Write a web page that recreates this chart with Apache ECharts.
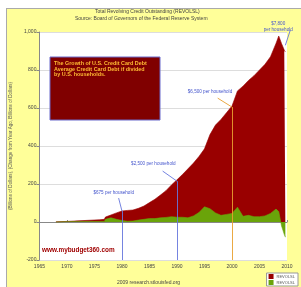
<!DOCTYPE html>
<html>
<head>
<meta charset="utf-8">
<script src="https://cdn.jsdelivr.net/npm/echarts@6/dist/echarts.min.js"></script>
<style>
  html, body { margin: 0; padding: 0; background: #fff; }
  #wrap { position: relative; width: 301px; height: 287px; background: #fff; overflow: hidden; }
  #panel { position: absolute; left: 6px; top: 8px; right: 0; bottom: 0; background: #ffff99; border-left: 1px solid #aaa; border-top: 1px solid #aaa; }
  #main { position: absolute; left: 0; top: 0; width: 301px; height: 287px; }
</style>
</head>
<body>
<div id="wrap">
  <div id="panel"></div>
  <div id="main"></div>
</div>
<script type="text/javascript">

	// dates (decimal years) shared by both series
	var years = [1968, 1970, 1972, 1974, 1976, 1976.8, 1977, 1978, 1979, 1980, 1981, 1982, 1983, 1984,
		1985, 1986, 1987, 1988, 1989, 1990, 1991, 1992, 1993, 1994, 1995, 1996, 1997, 1998, 1999,
		2000, 2001, 2002, 2003, 2004, 2005, 2006, 2007, 2008, 2008.5, 2009, 2009.5, 2009.7];
	// REVOLSL, billions of dollars
	var revolsl = [1, 3, 6, 9, 12, 14, 26, 37, 48, 58, 61, 63, 72, 84,
		102, 120, 142, 165, 195, 222, 250, 280, 310, 345, 385, 460, 510, 540, 575,
		610, 690, 715, 745, 770, 800, 830, 870, 940, 979, 940, 905, 895];
	// change from year ago, billions of dollars
	var changeYoY = [0, 2, 3, 3, 3, 3, 14, 22, 14, 8, 4, 5, 10, 14,
		18, 18, 22, 24, 28, 25, 25, 22, 32, 50, 80, 70, 48, 35, 40,
		45, 78, 30, 35, 28, 28, 32, 45, 68, 55, -20, -65, -80];

	// household annotations
	var noteText = ['$675 per household', '$2,500 per household', '$6,500 per household', '$7,800\nper household'];
	var notePos = [[1978.5, 153], [1985.7, 305], [1996, 684], [2008.4, 1029]];
	var pointerFrom = [[1979.4, 126], [1987.4, 268], [1997.4, 652], [2010.6, 1010]];
	var pointerTo = [[1980, 58], [1990, 215], [2000, 605], [2009.7, 930]];
	var pointerColors = ['#6677dd', '#6677dd', '#e8a030', '#6677dd'];
	var dropYears = [1980, 1990, 2000];
	var dropValues = [58, 215, 605];

	function pairs(xs, ys) {
		var out = [];
		for (var i = 0; i < xs.length; i++) out.push([xs[i], ys[i]]);
		return out;
	}

	var dropLines = [];
	for (var j = 0; j < dropYears.length; j++) {
		dropLines.push([{coord: [dropYears[j], dropValues[j]], lineStyle: {color: pointerColors[j]}}, {coord: [dropYears[j], -200]}]);
	}

	var font = '"Liberation Sans", Arial, sans-serif';
	var baseGraphic = [
		{type: 'text', left: 95, top: 9, style: {text: 'Total Revolving Credit Outstanding (REVOLSL)', font: '5px ' + font, fill: '#444'}},
		{type: 'text', left: 75, top: 16, style: {text: 'Source: Board of Governors of the Federal Reserve System', font: '5px ' + font, fill: '#444'}},
		{type: 'rect', shape: {x: 50, y: 57, width: 110, height: 63}, style: {fill: '#800000', stroke: '#6a6acc', lineWidth: 1}, z: 50},
		{type: 'text', x: 54, y: 61, z: 51, style: {text: 'The Growth of U.S. Credit Card Debt\nAverage Credit Card Debt if divided\nby U.S. households.', font: 'bold 5.4px ' + font, fill: '#ffbb33', lineHeight: 5.6}},
		{type: 'text', x: 42, y: 247, z: 51, style: {text: 'www.mybudget360.com', font: 'bold 6.4px ' + font, fill: '#a00000'}},
		{type: 'text', x: 117, y: 280, style: {text: '2009 research.stlouisfed.org', font: '5px ' + font, fill: '#444'}}
	];

	var chart = echarts.init(document.getElementById('main'));
	chart.setOption({
		animation: false,
		textStyle: {fontFamily: font},
		grid: {
			left: 37, top: 32, right: 14, bottom: 27,
			show: true, backgroundColor: '#ffffff', borderWidth: 0
		},
		legend: {
			data: ['REVOLSL', 'REVOLSL_CH'],
			orient: 'vertical',
			right: 3, bottom: 1,
			backgroundColor: '#ffffff', borderColor: '#999', borderWidth: 1,
			padding: [1, 3, 1, 2],
			itemWidth: 5, itemHeight: 5, itemGap: 1,
			icon: 'rect',
			formatter: function () { return 'REVOLSL'; },
			textStyle: {fontSize: 4, color: '#555', fontFamily: font, padding: [0, 0, 0, -2]}
		},
		graphic: baseGraphic,
		xAxis: {
			type: 'value',
			min: 1965, max: 2010, interval: 5,
			axisLine: {lineStyle: {color: '#888'}},
			axisTick: {inside: true, length: 2, lineStyle: {color: '#888'}},
			axisLabel: {fontSize: 5, color: '#444', margin: 4,
				formatter: function (v) { return String(v); }},
			splitLine: {show: false}
		},
		yAxis: {
			type: 'value',
			min: -200, max: 1000, interval: 200,
			name: '(Billions of Dollars), (Change from Year Ago, Billions of Dollars)',
			nameLocation: 'middle', nameGap: 23,
			nameTextStyle: {fontSize: 4.6, color: '#555'},
			axisLine: {show: true, lineStyle: {color: '#888'}},
			axisTick: {show: true, length: 3, lineStyle: {color: '#888'}},
			axisLabel: {fontSize: 5, color: '#444', margin: 3,
				formatter: function (v) { return v.toLocaleString('en-US'); }},
			splitLine: {lineStyle: {color: '#dddddd', width: 1}}
		},
		series: [
			{
				name: 'REVOLSL',
				type: 'line',
				data: pairs(years, revolsl),
				showSymbol: false,
				lineStyle: {width: 0.6, color: '#990000'},
				itemStyle: {color: '#990000'},
				areaStyle: {color: '#990000', opacity: 1}
			},
			{
				name: 'REVOLSL_CH',
				type: 'line',
				data: pairs(years, changeYoY),
				showSymbol: false,
				lineStyle: {width: 0.6, color: '#6aa40a'},
				itemStyle: {color: '#6aa40a'},
				areaStyle: {color: '#6aa40a', opacity: 1},
				markLine: {
					silent: true,
					symbol: ['none', 'none'],
					label: {show: false},
					lineStyle: {type: 'solid', width: 1, opacity: 0.9},
					data: dropLines
				}
			}
		]
	});

	// annotation texts and pointer lines, placed through the axes
	var extra = baseGraphic.slice();
	for (var k = 0; k < noteText.length; k++) {
		var p = chart.convertToPixel({gridIndex: 0}, notePos[k]);
		var a = chart.convertToPixel({gridIndex: 0}, pointerFrom[k]);
		var b = chart.convertToPixel({gridIndex: 0}, pointerTo[k]);
		extra.push({type: 'line', z: 40, shape: {x1: a[0], y1: a[1], x2: b[0], y2: b[1]},
			style: {stroke: pointerColors[k], lineWidth: 1, opacity: 0.9}});
		extra.push({type: 'text', z: 41, x: p[0], y: p[1], style: {text: noteText[k],
			font: '4.6px ' + font, fill: '#4455cc', align: 'center', verticalAlign: 'middle', lineHeight: 6}});
	}
	chart.setOption({graphic: extra});

</script>
</body>
</html>
